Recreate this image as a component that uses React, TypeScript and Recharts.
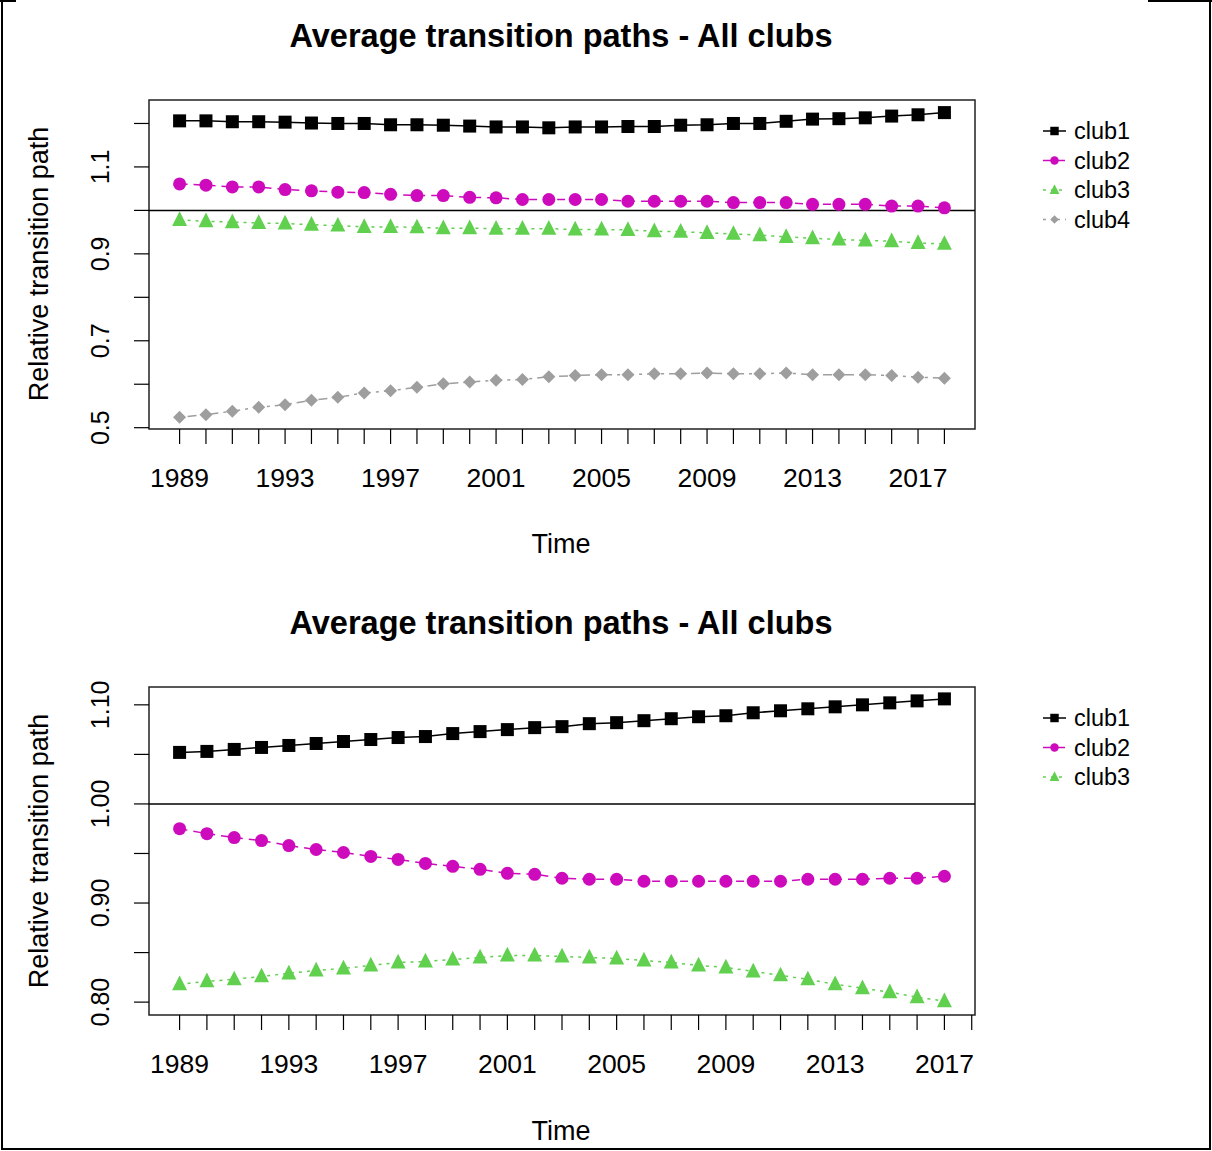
import React from 'react';
import { LineChart, Line, XAxis, YAxis, ReferenceLine, ReferenceArea, Legend } from 'recharts';

// ---- data: top panel (four clubs, 1989-2018) ----
const yearsTop = [
  1989, 1990, 1991, 1992, 1993, 1994, 1995, 1996, 1997, 1998,
  1999, 2000, 2001, 2002, 2003, 2004, 2005, 2006, 2007, 2008,
  2009, 2010, 2011, 2012, 2013, 2014, 2015, 2016, 2017, 2018,
];
const club1Top = [
  1.206, 1.206, 1.204, 1.204, 1.203, 1.201, 1.200, 1.200, 1.197, 1.197,
  1.196, 1.194, 1.192, 1.192, 1.190, 1.192, 1.192, 1.193, 1.193, 1.196,
  1.197, 1.200, 1.200, 1.205, 1.210, 1.211, 1.213, 1.217, 1.220, 1.225,
];
const club2Top = [
  1.061, 1.058, 1.054, 1.054, 1.048, 1.045, 1.042, 1.041, 1.037, 1.034,
  1.034, 1.030, 1.029, 1.025, 1.025, 1.025, 1.025, 1.021, 1.021, 1.021,
  1.021, 1.018, 1.018, 1.018, 1.014, 1.014, 1.014, 1.010, 1.010, 1.006,
];
const club3Top = [
  0.978, 0.975, 0.973, 0.971, 0.970, 0.967, 0.965, 0.962, 0.962, 0.961,
  0.959, 0.959, 0.958, 0.958, 0.958, 0.956, 0.956, 0.955, 0.952, 0.951,
  0.948, 0.946, 0.943, 0.939, 0.936, 0.933, 0.931, 0.929, 0.925, 0.923,
];
const club4Top = [
  0.524, 0.530, 0.538, 0.547, 0.553, 0.563, 0.570, 0.580, 0.585, 0.593,
  0.601, 0.605, 0.609, 0.611, 0.617, 0.620, 0.622, 0.622, 0.624, 0.624,
  0.626, 0.624, 0.624, 0.626, 0.622, 0.622, 0.622, 0.620, 0.616, 0.614,
];

// ---- data: bottom panel (three clubs, 1989-2017) ----
const yearsBottom = [
  1989, 1990, 1991, 1992, 1993, 1994, 1995, 1996, 1997, 1998,
  1999, 2000, 2001, 2002, 2003, 2004, 2005, 2006, 2007, 2008,
  2009, 2010, 2011, 2012, 2013, 2014, 2015, 2016, 2017,
];
const club1Bottom = [
  1.052, 1.053, 1.055, 1.057, 1.059, 1.061, 1.063, 1.065, 1.067, 1.068,
  1.071, 1.073, 1.075, 1.077, 1.078, 1.081, 1.082, 1.084, 1.086, 1.088,
  1.089, 1.092, 1.094, 1.096, 1.098, 1.100, 1.102, 1.104, 1.106,
];
const club2Bottom = [
  0.975, 0.970, 0.966, 0.963, 0.958, 0.954, 0.951, 0.947, 0.944, 0.940,
  0.937, 0.934, 0.930, 0.929, 0.925, 0.924, 0.924, 0.922, 0.922, 0.922,
  0.922, 0.922, 0.922, 0.924, 0.924, 0.924, 0.925, 0.925, 0.927,
];
const club3Bottom = [
  0.818, 0.821, 0.823, 0.826, 0.829, 0.832, 0.834, 0.837, 0.840, 0.841,
  0.843, 0.845, 0.847, 0.847, 0.846, 0.845, 0.844, 0.842, 0.840, 0.837,
  0.835, 0.831, 0.827, 0.823, 0.818, 0.814, 0.810, 0.805, 0.801,
];

// ---- ticks ----
const xTicksTop = yearsTop;
const xTicksBottom = [...yearsBottom, 2018];
const xTickLabels = ['1989', '1993', '1997', '2001', '2005', '2009', '2013', '2017'];
const yTicksTop = [0.5, 0.6, 0.7, 0.8, 0.9, 1.0, 1.1, 1.2];
const yTickLabelsTop = ['0.5', '0.7', '0.9', '1.1'];
const yTicksBottom = [0.8, 0.85, 0.9, 0.95, 1.0, 1.05, 1.1];
const yTickLabelsBottom = ['0.80', '0.90', '1.00', '1.10'];

const TITLE = 'Average transition paths - All clubs';
const FONT = '"Liberation Sans", Arial, sans-serif';

type Shape = 'square' | 'circle' | 'triangle' | 'diamond';
interface SeriesStyle {
  key: string;
  color: string;
  dash?: string;
  shape: Shape;
}

const styles: SeriesStyle[] = [
  { key: 'club1', color: '#000000', shape: 'square' },
  { key: 'club2', color: '#CD0BBC', dash: '8 6', shape: 'circle' },
  { key: 'club3', color: '#61D04F', dash: '3 5', shape: 'triangle' },
  { key: 'club4', color: '#9E9E9E', dash: '3 5 9 5', shape: 'diamond' },
];

const markerSize: Record<Shape, number> = { square: 13, circle: 13, triangle: 15, diamond: 13 };

const Marker = ({ shape, cx, cy, s, color }: { shape: Shape; cx: number; cy: number; s: number; color: string }) => {
  if (shape === 'square') {
    return <rect x={cx - s / 2} y={cy - s / 2} width={s} height={s} fill={color} />;
  }
  if (shape === 'circle') {
    return <circle cx={cx} cy={cy} r={s / 2} fill={color} />;
  }
  if (shape === 'triangle') {
    const pts = `${cx},${cy - s * 0.58} ${cx - s / 2},${cy + s * 0.4} ${cx + s / 2},${cy + s * 0.4}`;
    return <polygon points={pts} fill={color} />;
  }
  const pts = `${cx},${cy - s / 2} ${cx + s / 2},${cy} ${cx},${cy + s / 2} ${cx - s / 2},${cy}`;
  return <polygon points={pts} fill={color} />;
};

const buildRows = (years: number[], series: number[][]) =>
  years.map((year, i) => {
    const row: Record<string, number> = { year };
    series.forEach((vals, j) => {
      row[`club${j + 1}`] = vals[i];
    });
    return row;
  });

const topRows = buildRows(yearsTop, [club1Top, club2Top, club3Top, club4Top]);
const bottomRows = buildRows(yearsBottom, [club1Bottom, club2Bottom, club3Bottom]);

const ClubLegend = ({ items }: { items: SeriesStyle[] }) => (
  <svg width={120} height={items.length * 29.5 + 4} style={{ display: 'block', overflow: 'visible' }}>
    {items.map((s, i) => {
      const y = 10 + i * 29.5;
      return (
        <g key={s.key}>
          <line x1={3} x2={26} y1={y} y2={y} stroke={s.color} strokeWidth={1.5} strokeDasharray={s.dash} />
          <Marker shape={s.shape} cx={14.5} cy={y} s={markerSize[s.shape] * 0.65} color={s.color} />
          <text x={34} y={y} dominantBaseline="central" fontSize={23.5} fontFamily={FONT} fill="#000">
            {s.key}
          </text>
        </g>
      );
    })}
  </svg>
);

interface PanelProps {
  rows: Record<string, number>[];
  series: SeriesStyle[];
  xDomain: [number, number];
  xTicks: number[];
  yDomain: [number, number];
  yTicks: number[];
  yLabels: string[];
  yDigits: number;
  height: number;
  marginTop: number;
  marginBottom: number;
  legendTop: number;
}

const Panel = (p: PanelProps) => {
  const XTick = (props: any) => {
    const { x, y, payload } = props;
    const label = String(payload.value);
    if (!xTickLabels.includes(label)) return <g />;
    return (
      <text x={x} y={y + 32} textAnchor="middle" dominantBaseline="central" fontSize={26.5} fontFamily={FONT} fill="#000">
        {label}
      </text>
    );
  };
  const YTick = (props: any) => {
    const { x, y, payload } = props;
    const label = Number(payload.value).toFixed(p.yDigits);
    if (!p.yLabels.includes(label)) return <g />;
    const tx = x - 32;
    return (
      <text
        x={tx}
        y={y}
        textAnchor="middle"
        dominantBaseline="central"
        fontSize={25}
        fontFamily={FONT}
        fill="#000"
        transform={`rotate(-90, ${tx}, ${y})`}
      >
        {label}
      </text>
    );
  };

  return (
    <LineChart
      width={1212}
      height={p.height}
      data={p.rows}
      margin={{ top: p.marginTop, right: 237, bottom: p.marginBottom, left: 0 }}
    >
      <XAxis
        dataKey="year"
        type="number"
        domain={p.xDomain}
        allowDataOverflow
        ticks={p.xTicks}
        interval={0}
        tickSize={15}
        height={60}
        axisLine={false}
        tickLine={{ stroke: '#000', strokeWidth: 1.2 }}
        tick={XTick}
      />
      <YAxis
        type="number"
        domain={p.yDomain}
        allowDataOverflow
        ticks={p.yTicks}
        interval={0}
        tickSize={15}
        width={149}
        axisLine={false}
        tickLine={{ stroke: '#000', strokeWidth: 1.2 }}
        tick={YTick}
      />
      <ReferenceLine y={1} stroke="#000" strokeWidth={1.5} />
      {p.series.map((s) => (
        <Line
          key={s.key}
          dataKey={s.key}
          stroke={s.color}
          strokeWidth={1.5}
          strokeDasharray={s.dash}
          isAnimationActive={false}
          activeDot={false}
          dot={(d: any) => (
            <Marker
              key={`${s.key}-${d.index}`}
              shape={s.shape}
              cx={d.cx}
              cy={d.cy}
              s={markerSize[s.shape]}
              color={s.color}
            />
          )}
        />
      ))}
      <ReferenceArea
        x1={p.xDomain[0]}
        x2={p.xDomain[1]}
        y1={p.yDomain[0]}
        y2={p.yDomain[1]}
        fill="none"
        fillOpacity={0}
        stroke="#222"
        strokeWidth={1.5}
        ifOverflow="visible"
      />
      <Legend
        layout="vertical"
        align="center"
        verticalAlign="middle"
        wrapperStyle={{ left: 1040, top: p.legendTop, width: 130, height: 130 }}
        content={() => <ClubLegend items={p.series} />}
      />
    </LineChart>
  );
};

const App = () => (
  <div
    style={{
      position: 'absolute',
      left: 0,
      top: 0,
      width: 1212,
      height: 1151,
      background: '#fff',
      fontFamily: FONT,
    }}
  >
    <div style={{ position: 'absolute', left: 0, top: 0 }}>
      <Panel
        rows={topRows}
        series={styles}
        xDomain={[1987.84, 2019.16]}
        xTicks={xTicksTop}
        yDomain={[0.497, 1.254]}
        yTicks={yTicksTop}
        yLabels={yTickLabelsTop}
        yDigits={1}
        height={580}
        marginTop={100}
        marginBottom={91}
        legendTop={121}
      />
    </div>
    <div style={{ position: 'absolute', left: 0, top: 580 }}>
      <Panel
        rows={bottomRows}
        series={styles.slice(0, 3)}
        xDomain={[1987.88, 2018.12]}
        xTicks={xTicksBottom}
        yDomain={[0.787, 1.118]}
        yTicks={yTicksBottom}
        yLabels={yTickLabelsBottom}
        yDigits={2}
        height={571}
        marginTop={107}
        marginBottom={76}
        legendTop={128}
      />
    </div>
    <svg
      width={1212}
      height={1151}
      style={{ position: 'absolute', left: 0, top: 0, pointerEvents: 'none' }}
    >
      {/* outer frame */}
      <line x1={2} y1={0} x2={2} y2={1150} stroke="#000" strokeWidth={2} />
      <line x1={1210} y1={0} x2={1210} y2={1150} stroke="#000" strokeWidth={2} />
      <line x1={1} y1={1149} x2={1211} y2={1149} stroke="#000" strokeWidth={2} />
      <line x1={0} y1={1} x2={16} y2={1} stroke="#000" strokeWidth={2} />
      <line x1={1148} y1={1} x2={1212} y2={1} stroke="#000" strokeWidth={2} />

      {[0, 587].map((dy) => (
        <g key={dy}>
          <text x={561} y={36 + dy} textAnchor="middle" dominantBaseline="central" fontSize={32.5} fontWeight="bold" fontFamily={FONT}>
            {TITLE}
          </text>
          <text x={561} y={544 + dy} textAnchor="middle" dominantBaseline="central" fontSize={27} fontFamily={FONT}>
            Time
          </text>
          <text
            x={39}
            y={264 + dy}
            textAnchor="middle"
            dominantBaseline="central"
            fontSize={27}
            fontFamily={FONT}
            transform={`rotate(-90, 39, ${264 + dy})`}
          >
            Relative transition path
          </text>
        </g>
      ))}
    </svg>
  </div>
);

export default App;
